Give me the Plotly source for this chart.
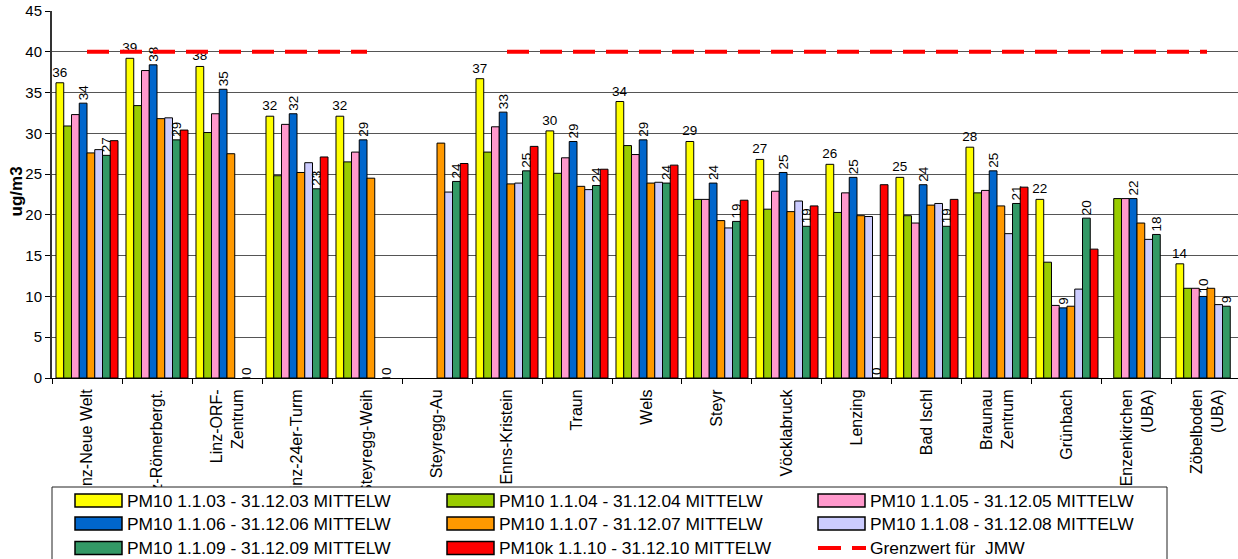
import plotly.graph_objects as go

categories = ["Linz-Neue Welt", "Linz-Römerbergt.", "Linz-ORF-<br>Zentrum", "Linz-24er-Turm",
              "Steyregg-Weih", "Steyregg-Au", "Enns-Kristein", "Traun", "Wels", "Steyr",
              "Vöcklabruck", "Lenzing", "Bad Ischl", "Braunau<br>Zentrum", "Grünbach",
              "Enzenkirchen<br>(UBA)", "Zöbelboden<br>(UBA)"]

pm10_2003 = [36.2, 39.2, 38.2, 32.1, 32.1, None, 36.7, 30.3, 33.9, 29.0, 26.8, 26.2, 24.6, 28.3, 21.9, None, 14.0]
pm10_2004 = [30.9, 33.4, 30.1, 24.8, 26.5, None, 27.7, 25.1, 28.5, 21.9, 20.7, 20.3, 19.9, 22.7, 14.2, 22.0, 11.0]
pm10_2005 = [32.3, 37.7, 32.4, 31.1, 27.7, None, 30.8, 27.0, 27.4, 21.9, 22.9, 22.7, 19.0, 23.0, 8.9, 22.0, 11.0]
pm10_2006 = [33.7, 38.4, 35.4, 32.4, 29.2, None, 32.6, 29.0, 29.2, 23.9, 25.2, 24.6, 23.7, 25.4, 8.6, 22.0, 10.0]
pm10_2007 = [27.6, 31.8, 27.5, 25.2, 24.5, 28.8, 23.8, 23.5, 23.9, 19.3, 20.4, 19.9, 21.2, 21.1, 8.8, 19.0, 11.0]
pm10_2008 = [28.0, 31.9, None, 26.4, None, 22.8, 23.9, 23.1, 24.0, 18.4, 21.7, 19.8, 21.4, 17.7, 10.9, 17.0, 9.0]
pm10_2009 = [27.3, 29.2, 0, 23.2, 0, 24.1, 25.4, 23.6, 23.9, 19.2, 18.6, 0, 18.6, 21.4, 19.6, 17.6, 8.8]
pm10k_2010 = [29.1, 30.4, None, 27.1, None, 26.3, 28.4, 25.6, 26.1, 21.8, 21.1, 23.7, 21.9, 23.4, 15.8, None, None]
grenzwert = [40, 40, 40, 40, 40, None, 40, 40, 40, 40, 40, 40, 40, 40, 40, 40, 40]

series_names = ["PM10 1.1.03 - 31.12.03 MITTELW", "PM10 1.1.04 - 31.12.04 MITTELW",
                "PM10 1.1.05 - 31.12.05 MITTELW", "PM10 1.1.06 - 31.12.06 MITTELW",
                "PM10 1.1.07 - 31.12.07 MITTELW", "PM10 1.1.08 - 31.12.08 MITTELW",
                "PM10 1.1.09 - 31.12.09 MITTELW", "PM10k 1.1.10 - 31.12.10 MITTELW"]
grenz_name = "Grenzwert für  JMW"
series_colors = ["#FFFF00", "#99CC00", "#FF99CC", "#0066CC", "#FF9900", "#CCCCFF", "#339966", "#FF0000"]
series_values = [pm10_2003, pm10_2004, pm10_2005, pm10_2006, pm10_2007, pm10_2008, pm10_2009, pm10k_2010]
label_angle = {0: 0, 3: -90, 6: -90}

FONT = "Liberation Sans, Arial, sans-serif"
FIG_W, FIG_H = 1238, 559
L, T, R, B = 52, 11, 0, 181
PW, PH = FIG_W - L - R, FIG_H - T - B

fig = go.Figure()
for i, (name, vals, col) in enumerate(zip(series_names, series_values, series_colors)):
    kw = {}
    if i in label_angle:
        kw = dict(texttemplate="%{y:.0f}", textposition="outside", textangle=label_angle[i],
                  textfont=dict(size=13.5, color="black", family=FONT), constraintext="none",
                  cliponaxis=False)
    fig.add_trace(go.Bar(x=categories, y=vals, name=name,
                         marker=dict(color=col, line=dict(color="black", width=1)), **kw))

fig.add_trace(go.Scatter(x=categories, y=grenzwert, name=grenz_name, mode="lines",
                         line=dict(color="#FF0000", width=4, dash="22px,11px"),
                         connectgaps=False))

def px(x):
    return (x - L) / PW

def py(y):
    return (T + PH - y) / PH

shapes = []
annotations = []
# legend box
shapes.append(dict(type="rect", xref="paper", yref="paper", x0=px(52), x1=px(1167),
                   y0=py(487), y1=py(575), line=dict(color="#222222", width=1),
                   fillcolor="white", layer="above"))
col_x = [75, 447, 818]
row_y = [500.5, 523.5, 548]
items = list(zip(series_names, series_colors)) + [(grenz_name, None)]
for k, (name, col) in enumerate(items):
    cx = col_x[k % 3]
    ry = row_y[k // 3]
    if col is not None:
        shapes.append(dict(type="rect", xref="paper", yref="paper", x0=px(cx), x1=px(cx + 47),
                           y0=py(ry + 6.5), y1=py(ry - 6.5), fillcolor=col,
                           line=dict(color="black", width=1.5), layer="above"))
    else:
        shapes.append(dict(type="line", xref="paper", yref="paper", x0=px(cx), x1=px(cx + 48),
                           y0=py(ry), y1=py(ry), line=dict(color="#FF0000", width=4, dash="23px,11px"),
                           layer="above"))
    annotations.append(dict(xref="paper", yref="paper", x=px(cx + 50), y=py(ry), text=name,
                            showarrow=False, xanchor="left", yanchor="middle",
                            font=dict(size=17.4, color="black", family=FONT)))

annotations.append(dict(xref="paper", yref="paper", x=0, xshift=-35.5, y=0.507, text="<b>ug/m3</b>",
                        textangle=-90, showarrow=False, xanchor="center", yanchor="middle",
                        font=dict(size=17, color="black", family=FONT)))

fig.update_layout(
    width=FIG_W, height=FIG_H,
    margin=dict(l=L, r=R, t=T, b=B),
    barmode="group", bargap=0.114, bargroupgap=0,
    plot_bgcolor="white", paper_bgcolor="white",
    showlegend=False,
    font=dict(family=FONT, color="black"),
    shapes=shapes, annotations=annotations,
    xaxis=dict(range=[-0.5, 16.443], tickson="boundaries", ticks="outside", ticklen=5,
               tickcolor="black", showline=True, linecolor="black", linewidth=1,
               tickangle=-90, tickfont=dict(size=16, color="black", family=FONT),
               ticklabelstandoff=4,
               showgrid=False, fixedrange=True),
    yaxis=dict(range=[0, 45], dtick=5, tick0=0, ticks="outside", ticklen=5, tickcolor="black",
               showline=True, linecolor="#333333", linewidth=2, showgrid=True,
               gridcolor="#555555", gridwidth=1, zeroline=False,
               tickfont=dict(size=15, color="black", family=FONT), fixedrange=True),
)

fig.write_html("out.html", config={"displayModeBar": False},
               post_script="document.body.style.margin='0px';")
